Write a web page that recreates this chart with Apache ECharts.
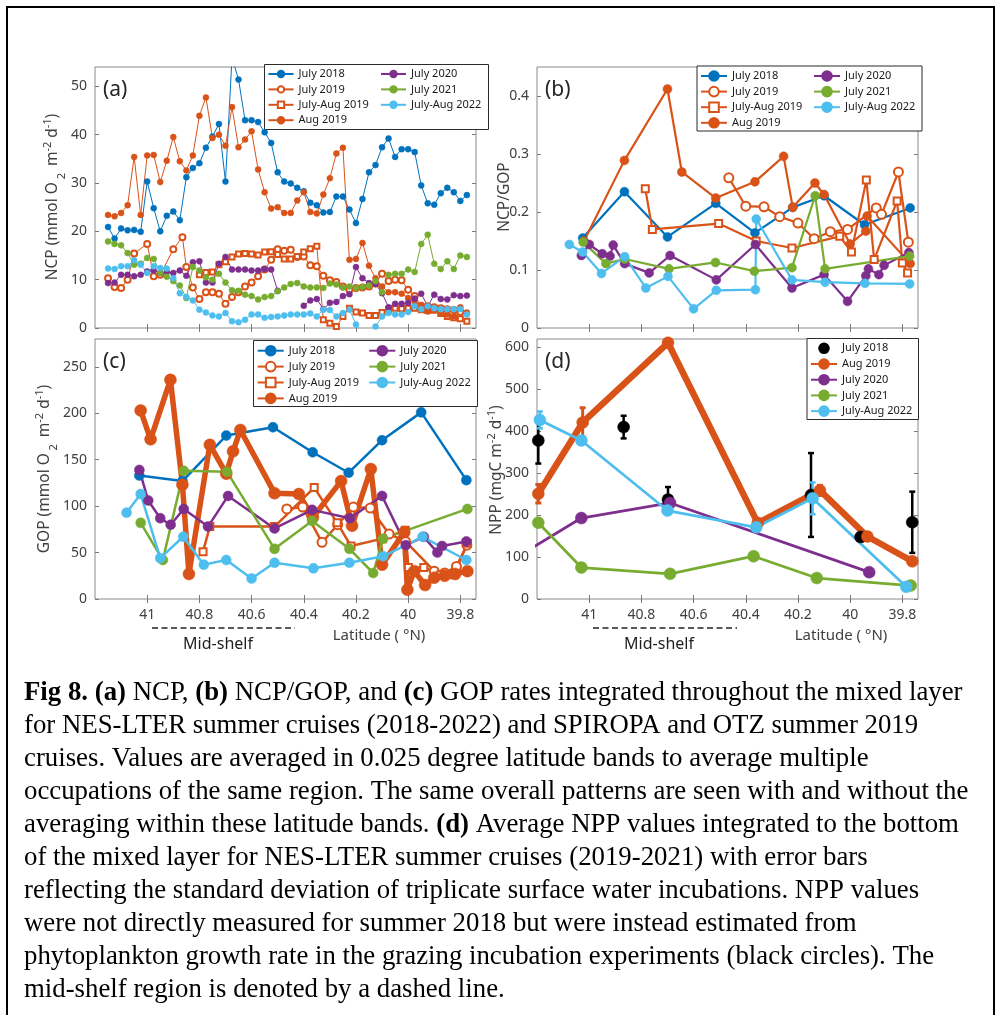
<!DOCTYPE html>
<html><head><meta charset="utf-8">
<script src="https://cdn.jsdelivr.net/npm/echarts@6/dist/echarts.min.js"></script>
<style>html,body{margin:0;padding:0;background:#fff}#c{width:1000px;height:1015px}</style>
</head><body><div id="c"></div>
<script>
// ---------------- DATA ----------------
const X_TICKS = [41, 40.8, 40.6, 40.4, 40.2, 40, 39.8];
const Y_TICKS_A = [0, 10, 20, 30, 40, 50];
const Y_TICKS_B = [0, 0.1, 0.2, 0.3, 0.4];
const Y_TICKS_C = [0, 50, 100, 150, 200, 250];
const Y_TICKS_D = [0, 100, 200, 300, 400, 500, 600];

// (a) NCP
const LAT_A = [41.15,41.125,41.1,41.075,41.05,41.025,41.0,40.975,40.95,40.925,40.9,40.875,40.85,40.825,40.8,40.775,40.75,40.725,40.7,40.675,40.65,40.625,40.6,40.575,40.55,40.525,40.5,40.475,40.45,40.425,40.4,40.375,40.35,40.325,40.3,40.275,40.25,40.225,40.2,40.175,40.15,40.125,40.1,40.075,40.05,40.025,40.0,39.975,39.95,39.925,39.9,39.875,39.85,39.825,39.8,39.775];
const A_JUL2018 = [20.9,18.5,20.6,20.2,20.3,19.9,30.3,24.8,20.0,23.2,24.1,22.3,31.2,33.1,34.1,37.3,39.6,42.2,30.3,56.0,51.4,43.0,43.0,42.6,40.5,38.3,32.2,30.3,29.9,29.0,28.3,25.9,25.4,23.9,24.0,27.2,27.2,24.5,21.7,26.7,32.2,33.7,37.4,39.2,35.4,37.0,37.0,36.4,29.5,25.8,25.5,27.9,29.0,28.1,26.3,27.5];
const A_AUG2019 = [23.4,23.1,23.8,25.4,35.4,23.4,35.7,35.8,30.2,34.6,39.5,34.5,32.6,35.7,43.9,47.7,39.3,40.0,37.7,45.7,37.4,39.0,40.7,32.8,28.1,24.7,25.0,23.8,23.8,26.4,28.1,24.0,23.7,27.6,31.0,36.1,37.3,14.1,14.3,17.6,12.9,10.3,8.6,7.4,7.4,7.1,6.2,5.5,4.5,3.4,3.6,3.1,2.8,2.4,4.3,3.2];
const A_JUL2020 = [9.3,9.4,11.0,11.0,10.7,11.0,11.7,11.9,11.4,11.6,11.4,11.9,10.8,13.6,13.8,9.4,9.4,13.3,14.7,12.1,12.1,12.1,11.9,11.9,12.2,12.1,7.7,null,null,null,4.6,5.7,6.0,3.9,5.2,5.4,6.6,7.0,12.6,10.3,9.3,9.1,7.2,4.3,5.0,5.0,5.2,6.1,7.1,4.5,6.9,6.0,5.9,6.8,6.6,6.7];
const A_JUL2021 = [17.9,17.4,17.1,15.5,13.1,13.3,14.5,14.3,11.4,10.6,9.7,8.8,6.2,12.6,11.9,10.5,10.0,11.2,9.4,7.8,7.7,6.9,6.6,5.9,6.4,6.6,7.6,8.4,9.1,9.3,8.6,8.4,8.4,8.3,9.2,9.0,8.4,8.6,8.3,8.5,8.8,9.7,7.4,11.0,11.2,11.2,12.1,11.6,17.4,19.3,13.3,12.2,13.8,12.2,15.0,14.7];
const A_JA2022 = [12.3,12.2,12.8,12.8,14.0,13.1,11.4,12.8,12.4,12.3,10.3,7.2,6.4,5.7,3.8,3.2,2.6,2.4,3.1,1.4,1.2,1.7,2.8,2.8,2.1,2.3,2.4,2.6,2.8,2.8,2.8,3.0,2.4,3.8,3.7,2.4,3.1,3.8,0.7,-0.8,-1.2,0.3,2.4,3.1,2.8,2.8,3.3,4.5,3.9,4.5,4.1,3.9,3.9,3.9,3.9,2.8];
const LAT_A_JUL2019 = [41.15,41.125,41.1,41.075,41.05,41.0,40.975,40.95,40.9,40.865,40.85,40.825,40.8,40.775,40.75,40.725,40.7,40.675,40.65,40.625,40.6,40.575,40.55,40.525,40.5,40.475,40.45,40.425,40.4,40.375,40.35,40.325,40.3,40.275,40.25,40.225,40.2,40.175,40.15,40.125,40.1,40.075,40.05,40.025,40.0,39.975,39.95,39.925,39.9,39.875,39.85,39.825,39.8];
const A_JUL2019 = [10.3,8.5,8.3,10.0,15.4,17.4,10.7,11.0,16.3,18.8,12.6,8.4,6.0,7.4,7.4,7.1,5.0,6.4,7.4,8.6,9.4,10.7,12.1,14.1,16.3,16.0,16.2,14.7,14.8,13.0,12.8,10.8,9.9,9.5,8.6,7.9,8.3,8.4,8.6,9.2,11.2,9.7,10.0,9.9,7.9,6.6,4.6,4.5,4.3,4.1,3.9,3.7,3.3];
const LAT_A_JA2019 = [40.8,40.775,40.75,40.725,40.7,40.675,40.65,40.625,40.6,40.575,40.55,40.525,40.5,40.475,40.45,40.425,40.4,40.375,40.35,40.325,40.3,40.275,40.25,40.225,40.2,40.175,40.15,40.125,40.1,40.075,40.05,40.025,40.0,39.975,39.95,39.925,39.9,39.875,39.85,39.825,39.8,39.775];
const A_JA2019 = [11.0,11.5,11.6,13.1,13.7,14.7,15.3,15.4,15.3,15.1,15.7,15.8,15.2,14.3,14.3,14.8,15.7,16.4,16.9,1.7,1.0,0.3,2.4,4.1,3.3,3.1,2.6,2.6,3.2,3.8,4.1,4.0,4.1,4.1,3.8,3.6,3.7,3.0,2.4,2.1,1.9,1.4];

// (b) NCP/GOP
const LAT_B_JUL2018 = [41.025,40.865,40.7,40.515,40.365,40.22,40.1,39.945,39.77];
const B_JUL2018 = [0.155,0.235,0.157,0.215,0.164,0.208,0.228,0.178,0.207];
const LAT_B_JUL2019 = [40.465,40.4,40.33,40.27,40.2,40.138,40.076,40.01,39.9,39.88,39.815,39.777];
const B_JUL2019 = [0.259,0.210,0.209,0.192,0.181,0.154,0.166,0.170,0.207,0.196,0.269,0.148];
const LAT_B_JA2019 = [40.785,40.758,40.504,40.36,40.223,40.04,39.995,39.938,39.908,39.82,39.8,39.78];
const B_JA2019 = [0.240,0.170,0.180,0.150,0.138,0.158,0.131,0.255,0.118,0.219,0.112,0.095];
const LAT_B_AUG2019 = [41.02,40.865,40.7,40.645,40.515,40.365,40.255,40.22,40.135,40.1,40.0,39.94,39.935,39.77];
const B_AUG2019 = [0.15,0.289,0.412,0.269,0.224,0.252,0.296,0.208,0.250,0.230,0.145,0.167,0.193,0.111];
const LAT_B_JUL2020 = [41.03,41.0,40.95,40.92,40.908,40.864,40.77,40.69,40.513,40.363,40.223,40.1,40.01,39.94,39.93,39.89,39.87,39.775];
const B_JUL2020 = [0.125,0.144,0.128,0.124,0.143,0.111,0.095,0.125,0.083,0.144,0.069,0.092,0.046,0.090,0.102,0.092,0.108,0.130];
const LAT_B_JUL2021 = [41.023,40.936,40.864,40.694,40.516,40.367,40.223,40.134,40.096,39.772];
const B_JUL2021 = [0.148,0.111,0.119,0.102,0.113,0.098,0.104,0.228,0.102,0.124];
const LAT_B_JA2022 = [41.076,41.025,40.953,40.864,40.783,40.698,40.6,40.513,40.363,40.36,40.223,40.096,39.943,39.772];
const B_JA2022 = [0.144,0.131,0.094,0.123,0.069,0.089,0.033,0.065,0.066,0.188,0.083,0.079,0.077,0.076];

// (c) GOP
const LAT_C_JUL2018 = [41.03,40.865,40.697,40.518,40.366,40.228,40.1,39.95,39.777];
const C_JUL2018 = [133,127,176,185,158,136,171,201,128];
const LAT_C_JUL2019 = [40.465,40.404,40.33,40.27,40.21,40.145,40.073,40.01,39.9,39.86,39.815,39.775];
const C_JUL2019 = [97,99,61,80,99,98,70,62,30,28,35,58];
const LAT_C_JA2019 = [40.786,40.76,40.512,40.36,40.272,40.219,40.098,40.011,39.999,39.94,39.875,39.824,39.773];
const C_JA2019 = [51,78,78,120,82,57,65,74,34,34,26,26,60];
const LAT_C_AUG2019 = [41.025,40.987,40.911,40.865,40.84,40.76,40.697,40.671,40.643,40.512,40.419,40.365,40.257,40.215,40.143,40.1,40.015,40.003,39.977,39.935,39.9,39.86,39.82,39.773];
const C_AUG2019 = [203,172,236,123,27,166,135,159,182,114,113,88,127,79,140,37,72,10,30,15,23,25,27,30];
const LAT_C_JUL2020 = [41.03,40.996,40.95,40.91,40.86,40.767,40.69,40.512,40.368,40.223,40.1,40.009,39.94,39.888,39.87,39.777];
const C_JUL2020 = [139,106,87,80,97,78,111,76,96,87,111,58,67,50,57,62];
const LAT_C_JUL2021 = [41.025,40.94,40.86,40.694,40.512,40.368,40.225,40.134,40.096,39.773];
const C_JUL2021 = [82,42,138,137,54,84,54,28,65,97];
const LAT_C_JA2022 = [41.079,41.025,40.95,40.862,40.783,40.697,40.6,40.512,40.363,40.225,40.096,39.945,39.777];
const C_JA2022 = [93,113,44,67,37,42,22,39,33,39,46,67,42];

// (d) NPP  (value, +/- std)
const LAT_D_JUL2018 = [41.195,40.868,40.698,40.15,39.96,39.762];
const D_JUL2018 = [378,410,237,248,148,183];
const D_JUL2018_SD = [55,27,30,100,10,73];
const LAT_D_AUG2019 = [41.195,41.025,40.698,40.354,40.116,39.934,39.762];
const D_AUG2019 = [251,421,611,181,259,149,90];
const D_AUG2019_SD = [22,35,8,10,12,8,8];
const LAT_D_JUL2020 = [41.25,41.03,40.69,39.927];
const D_JUL2020 = [110,193,229,64];
const LAT_D_JUL2021 = [41.195,41.03,40.69,40.37,40.128,39.768];
const D_JUL2021 = [182,75,60,102,50,32];
const LAT_D_JA2022 = [41.189,41.03,40.7,40.36,40.144,39.785];
const D_JA2022 = [427,378,211,171,240,29];
const D_JA2022_SD = [20,5,5,5,38,5];

const CAPTION = [
  '{b|Fig 8. (a)} NCP, {b|(b)} NCP/GOP, and {b|(c)} GOP rates integrated throughout the mixed layer',
  'for NES-LTER summer cruises (2018-2022) and SPIROPA and OTZ summer 2019',
  'cruises. Values are averaged in 0.025 degree latitude bands to average multiple',
  'occupations of the same region. The same overall patterns are seen with and without the',
  'averaging within these latitude bands. {b|(d)} Average NPP values integrated to the bottom',
  'of the mixed layer for NES-LTER summer cruises (2019-2021) with error bars',
  'reflecting the standard deviation of triplicate surface water incubations. NPP values',
  'were not directly measured for summer 2018 but were instead estimated from',
  'phytoplankton growth rate in the grazing incubation experiments (black circles). The',
  'mid-shelf region is denoted by a dashed line.'
];

// ---------------- STYLE / LAYOUT ----------------
const FONT = '"Noto Sans", "Open Sans", sans-serif';
const SERIF = '"Liberation Serif", "DejaVu Serif", serif';
const COL = {blue:'#0072BD', orange:'#D95319', purple:'#7E2F8E', green:'#77AC30', lblue:'#4DBEEE', black:'#000000'};
const GRIDS = [
  {left:95, top:67, width:381, height:261},
  {left:537, top:67, width:381, height:261},
  {left:95, top:339, width:381, height:260},
  {left:537, top:339, width:381, height:260}
];
const YMAX = [54, 0.45, 280, 620];
const YTICKS = [Y_TICKS_A, Y_TICKS_B, Y_TICKS_C, Y_TICKS_D];
const PIDX = {a:0, b:1, c:2, d:3};
const fmt1 = v => String(Math.round(v * 10) / 10);

const xAxis = [], yAxis = [];
GRIDS.forEach((g, i) => {
  const showX = i >= 2;
  const tickStyle = {inside:true, length:4, lineStyle:{color:'#7a7a7a', width:1}};
  xAxis.push({type:'value', gridIndex:i, min:39.74, max:41.2, inverse:true, position:'bottom',
    axisLine:{show:false}, splitLine:{show:false},
    axisTick:Object.assign({customValues:X_TICKS}, tickStyle),
    axisLabel:{show:showX, customValues:X_TICKS, formatter:fmt1, margin:9, fontSize:14, color:'#404040', fontFamily:FONT}});
  xAxis.push({type:'value', gridIndex:i, min:39.74, max:41.2, inverse:true, position:'top',
    axisLine:{show:false}, splitLine:{show:false},
    axisTick:Object.assign({customValues:X_TICKS}, tickStyle), axisLabel:{show:false}});
  yAxis.push({type:'value', gridIndex:i, min:0, max:YMAX[i], position:'left',
    axisLine:{show:false}, splitLine:{show:false},
    axisTick:Object.assign({customValues:YTICKS[i]}, tickStyle),
    axisLabel:{customValues:YTICKS[i], formatter:fmt1, margin:8, fontSize:14, color:'#404040', fontFamily:FONT}});
  yAxis.push({type:'value', gridIndex:i, min:0, max:YMAX[i], position:'right',
    axisLine:{show:false}, splitLine:{show:false},
    axisTick:Object.assign({customValues:YTICKS[i]}, tickStyle), axisLabel:{show:false}});
});

function pts(lats, vals) { return lats.map((x, k) => [x, vals[k]]); }
function ln(p, name, lats, vals, color, o) {
  const ax = PIDX[p] * 2;
  return {type:'line', name:p + ':' + name, xAxisIndex:ax, yAxisIndex:ax, data:pts(lats, vals),
    symbol:o.sym || 'circle', symbolSize:o.ss, showSymbol:true, showAllSymbol:true,
    lineStyle:{color:color, width:o.lw, opacity:o.lop == null ? 1 : o.lop},
    itemStyle:{color:color, borderColor:color, borderWidth:o.bw == null ? 0.5 : o.bw},
    emphasis:{disabled:true}, animation:false, clip:true, connectNulls:false, silent:true};
}
function errbar(p, lats, vals, sd, color, lw, cap) {
  const ax = PIDX[p] * 2;
  return {type:'custom', xAxisIndex:ax, yAxisIndex:ax, silent:true, animation:false,
    data:lats.map((x, k) => [x, vals[k], sd[k]]),
    renderItem:(params, api) => {
      const x = api.value(0), y = api.value(1), e = api.value(2);
      const t = api.coord([x, y + e]), b = api.coord([x, y - e]);
      const st = {stroke:color, lineWidth:lw};
      return {type:'group', children:[
        {type:'line', shape:{x1:t[0], y1:t[1], x2:b[0], y2:b[1]}, style:st},
        {type:'line', shape:{x1:t[0]-cap, y1:t[1], x2:t[0]+cap, y2:t[1]}, style:st},
        {type:'line', shape:{x1:b[0]-cap, y1:b[1], x2:b[0]+cap, y2:b[1]}, style:st}
      ]};
    }};
}

const series = [
  // (a)
  ln('a','July 2018', LAT_A, A_JUL2018, COL.blue, {lw:1, ss:6}),
  ln('a','July 2019', LAT_A_JUL2019, A_JUL2019, COL.orange, {lw:1, ss:6, sym:'emptyCircle', bw:1}),
  ln('a','July-Aug 2019', LAT_A_JA2019, A_JA2019, COL.orange, {lw:1, ss:5, sym:'emptyRect', bw:1}),
  ln('a','Aug 2019', LAT_A, A_AUG2019, COL.orange, {lw:1, ss:6}),
  ln('a','July 2020', LAT_A, A_JUL2020, COL.purple, {lw:1, ss:6}),
  ln('a','July 2021', LAT_A, A_JUL2021, COL.green, {lw:1, ss:6}),
  ln('a','July-Aug 2022', LAT_A, A_JA2022, COL.lblue, {lw:1, ss:6}),
  // (b)
  ln('b','July 2018', LAT_B_JUL2018, B_JUL2018, COL.blue, {lw:2.2, ss:9}),
  ln('b','July 2019', LAT_B_JUL2019, B_JUL2019, COL.orange, {lw:2.2, ss:9, sym:'emptyCircle', bw:1.6}),
  ln('b','July-Aug 2019', LAT_B_JA2019, B_JA2019, COL.orange, {lw:2.2, ss:7, sym:'emptyRect', bw:1.6}),
  ln('b','Aug 2019', LAT_B_AUG2019, B_AUG2019, COL.orange, {lw:2.2, ss:9}),
  ln('b','July 2020', LAT_B_JUL2020, B_JUL2020, COL.purple, {lw:2.2, ss:9}),
  ln('b','July 2021', LAT_B_JUL2021, B_JUL2021, COL.green, {lw:2.2, ss:9}),
  ln('b','July-Aug 2022', LAT_B_JA2022, B_JA2022, COL.lblue, {lw:2.2, ss:9}),
  // (c)
  ln('c','July 2018', LAT_C_JUL2018, C_JUL2018, COL.blue, {lw:2.5, ss:10}),
  ln('c','July 2019', LAT_C_JUL2019, C_JUL2019, COL.orange, {lw:2.5, ss:9, sym:'emptyCircle', bw:1.6}),
  ln('c','July-Aug 2019', LAT_C_JA2019, C_JA2019, COL.orange, {lw:2.5, ss:7, sym:'emptyRect', bw:1.6}),
  ln('c','Aug 2019', LAT_C_AUG2019, C_AUG2019, COL.orange, {lw:5.5, ss:12}),
  ln('c','July 2020', LAT_C_JUL2020, C_JUL2020, COL.purple, {lw:2.5, ss:10}),
  ln('c','July 2021', LAT_C_JUL2021, C_JUL2021, COL.green, {lw:2.5, ss:10}),
  ln('c','July-Aug 2022', LAT_C_JA2022, C_JA2022, COL.lblue, {lw:2.5, ss:10}),
  // (d)
  errbar('d', LAT_D_JUL2018, D_JUL2018, D_JUL2018_SD, COL.black, 2.5, 3),
  ln('d','July 2018', LAT_D_JUL2018, D_JUL2018, COL.black, {lw:1, ss:12, lop:0}),
  errbar('d', LAT_D_AUG2019, D_AUG2019, D_AUG2019_SD, COL.orange, 3, 3),
  ln('d','Aug 2019', LAT_D_AUG2019, D_AUG2019, COL.orange, {lw:6.5, ss:12}),
  ln('d','July 2020', LAT_D_JUL2020, D_JUL2020, COL.purple, {lw:2.8, ss:12}),
  ln('d','July 2021', LAT_D_JUL2021, D_JUL2021, COL.green, {lw:2.8, ss:12}),
  errbar('d', LAT_D_JA2022, D_JA2022, D_JA2022_SD, COL.lblue, 2.5, 3),
  ln('d','July-Aug 2022', LAT_D_JA2022, D_JA2022, COL.lblue, {lw:2.8, ss:12})
];

function leg(p, names, left, top, iw, ih, gap) {
  return {data:names.map(n => p + ':' + n), orient:'vertical', left:left, top:top, padding:0,
    itemWidth:iw, itemHeight:ih, itemGap:gap, selectedMode:false, z:5,
    formatter:n => n.slice(2),
    textStyle:{fontSize:11, lineHeight:14, color:'#1a1a1a', fontFamily:FONT}};
}
const C1 = ['July 2018','July 2019','July-Aug 2019','Aug 2019'];
const C2 = ['July 2020','July 2021','July-Aug 2022'];
const legend = [
  leg('a', C1, 267.5, 67, 25, 8, 1.4), leg('a', C2, 380, 67, 25, 8, 1.4),
  leg('b', C1, 700, 69, 26, 12, 1.6), leg('b', C2, 813, 69, 26, 12, 1.6),
  leg('c', C1, 256.7, 343.7, 26, 12, 1.9), leg('c', C2, 368.3, 343.7, 26, 12, 1.9),
  leg('d', ['July 2018','Aug 2019','July 2020','July 2021','July-Aug 2022'], 810, 341.3, 26, 12, 1.7)
];

const axisRich = {
  n:{fontSize:15.5, fontFamily:FONT, fill:'#404040', verticalAlign:'middle', lineHeight:28},
  sub:{fontSize:11, fontFamily:FONT, fill:'#404040', verticalAlign:'bottom'},
  sup:{fontSize:11, fontFamily:FONT, fill:'#404040', verticalAlign:'top', padding:[3,0,0,0]}
};
function ylab(x, y, text) {
  return {type:'text', x:x, y:y, rotation:Math.PI / 2, silent:true,
    style:{text:text, rich:axisRich, align:'center', verticalAlign:'middle', fontSize:15.5, fontFamily:FONT, fill:'#404040'}};
}
function txt(x, y, text, size, color, align) {
  return {type:'text', x:x, y:y, silent:true,
    style:{text:text, fontSize:size, fontFamily:FONT, fill:color, align:align || 'center', verticalAlign:'middle'}};
}
const capRich = {b:{fontWeight:'bold', fontSize:26.8, fontFamily:SERIF, fill:'#000'}};
const graphic = [
  {type:'rect', silent:true, shape:{x:7, y:7, width:987, height:1040}, style:{fill:'none', stroke:'#000', lineWidth:2}},
  {type:'rect', silent:true, z:3, shape:{x:264.5, y:64.5, width:224, height:65}, style:{fill:'#fff', stroke:'#2b2b2b', lineWidth:1}},
  {type:'rect', silent:true, z:3, shape:{x:697, y:66, width:225, height:65}, style:{fill:'#fff', stroke:'#2b2b2b', lineWidth:1}},
  {type:'rect', silent:true, z:3, shape:{x:253.5, y:340.5, width:224, height:66}, style:{fill:'#fff', stroke:'#2b2b2b', lineWidth:1}},
  {type:'rect', silent:true, z:3, shape:{x:807, y:338.5, width:111.5, height:81}, style:{fill:'#fff', stroke:'#2b2b2b', lineWidth:1}},
  txt(103, 90, '(a)', 21, '#262626', 'left'),
  txt(545, 90, '(b)', 21, '#262626', 'left'),
  txt(103, 362, '(c)', 21, '#262626', 'left'),
  txt(545, 362, '(d)', 21, '#262626', 'left'),
  ylab(53, 197, '{n|NCP (mmol O}{sub| 2 }{n| m}{sup|-2}{n| d}{sup|-1}{n|)}'),
  ylab(505, 197, '{n|NCP/GOP}'),
  ylab(45, 469, '{n|GOP (mmol O}{sub| 2 }{n| m}{sup|-2}{n| d}{sup|-1}{n|)}'),
  ylab(497, 470, '{n|NPP (mgC m}{sup|-2}{n| d}{sup|-1}{n|)}'),
  txt(379, 636, 'Latitude ( °N)', 15, '#404040'),
  txt(841, 636, 'Latitude ( °N)', 15, '#404040'),
  {type:'line', silent:true, shape:{x1:152, y1:628, x2:295, y2:628}, style:{stroke:'#222', lineWidth:1.3, lineDash:[6,3.5]}},
  {type:'line', silent:true, shape:{x1:593, y1:628, x2:737, y2:628}, style:{stroke:'#222', lineWidth:1.3, lineDash:[6,3.5]}},
  txt(218, 644, 'Mid-shelf', 16, '#1f1f1f'),
  txt(659, 644, 'Mid-shelf', 16, '#1f1f1f')
];
CAPTION.forEach((t, k) => {
  graphic.push({type:'text', x:24, y:693 + k * 33, silent:true,
    style:{text:t, rich:capRich, fontSize:26.8, fontFamily:SERIF, fill:'#000', align:'left', verticalAlign:'middle'}});
});

const chart = echarts.init(document.getElementById('c'), null, {renderer:'canvas'});
chart.setOption({
  backgroundColor:'#ffffff',
  animation:false,
  grid:GRIDS.map(g => Object.assign({show:true, borderColor:'#8a8a8a', borderWidth:1, backgroundColor:'rgba(0,0,0,0)', containLabel:false}, g)),
  xAxis:xAxis, yAxis:yAxis, legend:legend, series:series, graphic:graphic
});
</script></body></html>
